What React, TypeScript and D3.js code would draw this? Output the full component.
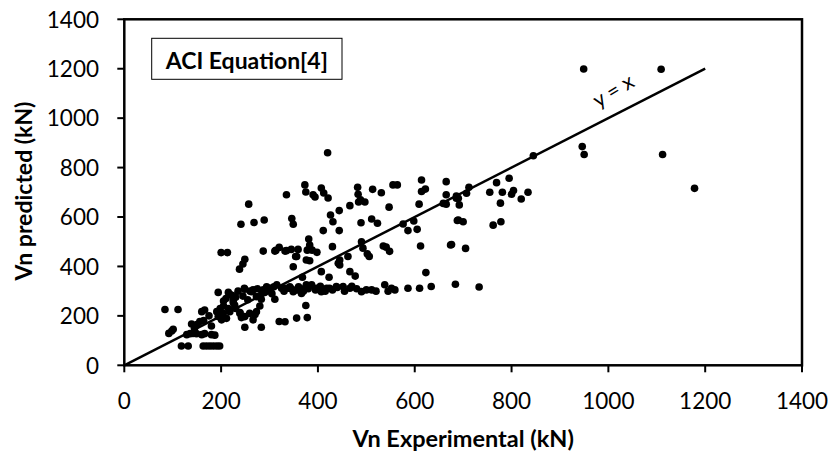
import React from "react";
import * as d3 from "d3";

// Vn Experimental (kN) and Vn predicted (kN), paired by index
const vnExperimental: number[] = [
  84, 111, 92, 98, 101,
  118, 132, 163, 170, 177, 184, 191, 197,
  129, 136, 142, 149, 160, 166, 180, 187,
  139, 156, 164, 160, 166, 180,
  191, 198, 194, 204, 201, 211, 218,
  225, 228, 215, 194,
  239, 249, 259, 266, 273,
  249, 283,
  249, 263, 273, 284, 294, 301, 309, 311,
  320, 332, 356, 378,
  332, 342, 356, 366, 373, 375,
  349, 376, 356, 287, 311, 332,
  200, 213, 249, 245, 238,
  225, 225, 239, 242, 270, 280, 283, 297,
  205, 210, 220, 230, 235, 245, 255, 205, 215, 230, 175, 150, 145,
  614, 665, 555, 564, 482, 513, 531, 373, 375, 407, 412, 421, 390, 394, 335,
  483, 488, 484, 497, 466, 614, 622, 609, 665, 665, 547, 257, 241, 268, 289,
  346, 349, 426, 431, 444, 489, 511, 523, 411, 444, 576, 586, 598, 605, 612, 674,
  313, 320, 335, 345, 359, 354, 381, 383, 378, 388, 398, 383, 430, 445, 445,
  462, 466, 477, 407, 423, 368, 490, 493, 502, 506, 535, 541, 548, 623,
  248, 266, 287, 301, 315, 325, 339, 349, 362, 376, 387, 397, 407, 418, 424,
  438, 452, 466, 490, 511, 538, 552, 559, 586, 610, 634,
  260, 275, 290, 305, 330, 345, 360, 370, 380, 395, 405, 415, 430, 440, 455,
  470, 480, 500, 520, 545,
  686, 688, 442,
  659, 690, 692, 686, 712, 707, 690, 700, 676, 705, 684, 733,
  755, 769, 781, 795, 800, 804, 820, 834, 777, 762, 778, 845,
  420, 949, 1109, 946, 950, 1112, 1178,
];

const vnPredicted: number[] = [
  226, 226, 129, 139, 146,
  78, 78, 78, 78, 78, 78, 78, 78,
  124, 128, 129, 128, 124, 128, 124, 122,
  167, 177, 181, 217, 224, 159,
  217, 230, 197, 210, 184, 190, 217,
  264, 244, 295, 295,
  210, 197, 210, 184, 217,
  154, 154,
  308, 298, 278, 291, 318, 311, 318, 267,
  177, 176, 191, 193,
  312, 318, 305, 291, 312, 242,
  399, 426, 440, 462, 462, 462,
  456, 456, 429, 410, 389,
  281, 254, 213, 193, 206, 240, 267, 301,
  260, 270, 285, 275, 300, 280, 265, 240, 230, 230, 200, 165, 150,
  750, 743, 730, 730, 720, 712, 698, 730, 701, 717, 697, 677, 690, 681, 690,
  692, 670, 661, 661, 646, 703, 713, 652, 690, 652, 640, 652, 571, 578, 588,
  594, 571, 608, 581, 626, 577, 592, 575, 545, 545, 572, 545, 584, 550, 483, 487,
  465, 477, 464, 469, 469, 440, 511, 487, 466, 466, 457, 423, 480, 426, 406,
  440, 379, 361, 379, 356, 356, 500, 474, 451, 440, 483, 478, 461, 375,
  312, 305, 305, 312, 326, 312, 312, 298, 305, 326, 326, 312, 298, 312, 312,
  319, 319, 312, 298, 305, 326, 312, 305, 312, 312, 319,
  300, 310, 295, 290, 300, 310, 318, 300, 310, 305, 320, 300, 305, 315, 300,
  320, 310, 305, 300, 300,
  676, 586, 413,
  655, 676, 649, 685, 720, 696, 588, 581, 489, 473, 328, 317,
  700, 739, 700, 757, 692, 707, 673, 700, 656, 567, 581, 848,
  860, 1199, 1198, 885, 853, 853, 716,
];

const xTicks: number[] = [0, 200, 400, 600, 800, 1000, 1200, 1400];
const yTicks: number[] = [0, 200, 400, 600, 800, 1000, 1200, 1400];
const identityLine: number[] = [0, 1200];

const xTitle = "Vn Experimental (kN)";
const yTitle = "Vn predicted (kN)";
const legendText = "ACI Equation[4]";
const lineLabel = "y = x";

const W = 832;
const H = 461;
const FONT = "Lato, 'Open Sans', sans-serif";

export default function App() {
  const left = 124.3, right = 802, top = 19.3, bottom = 365.3;
  const x = d3.scaleLinear().domain([0, 1400]).range([left, right]);
  const y = d3.scaleLinear().domain([0, 1400]).range([bottom, top]);
  const line = d3.line<number>().x((d) => x(d)).y((d) => y(d));
  const pts = vnExperimental.map((v, i) => [v, vnPredicted[i]] as [number, number]);
  const angle = (Math.atan2(y(0) - y(1200), x(1200) - x(0)) * 180) / Math.PI;

  return (
    <>
      <style>{"body{margin:0;background:#fff}"}</style>
      <svg width={W} height={H} style={{ display: "block", fontFamily: FONT }}>
        <rect x={0} y={0} width={W} height={H} fill="#fff" />
        {/* frame */}
        <rect x={left} y={top} width={right - left} height={bottom - top} fill="none" stroke="#000" strokeWidth={2.5} />
        {/* x ticks */}
        {xTicks.map((t) => (
          <g key={"xt" + t}>
            <line x1={x(t)} x2={x(t)} y1={bottom} y2={bottom + 7} stroke="#000" strokeWidth={2} />
            <text x={x(t)} y={bottom + 44} textAnchor="middle" fontSize={22.5} fill="#000">{t}</text>
          </g>
        ))}
        {yTicks.map((t) => (
          <g key={"yt" + t}>
            <line x1={left - 7} x2={left} y1={y(t)} y2={y(t)} stroke="#000" strokeWidth={2} />
            <text x={99} y={y(t) + 8.2} textAnchor="end" fontSize={22.5} fill="#000">{t}</text>
          </g>
        ))}
        {/* points */}
        {pts.map((p, i) => (
          <circle key={i} cx={x(p[0])} cy={y(p[1])} r={3.8} fill="#000" />
        ))}
        {/* y = x line */}
        <path d={line(identityLine) || ""} fill="none" stroke="#000" strokeWidth={2.5} />
        <text
          transform={`translate(${617},${97}) rotate(${-angle - 4})`}
          textAnchor="middle"
          fontSize={21}
          fill="#000"
        >
          {lineLabel}
        </text>
        {/* legend box */}
        <rect x={151.7} y={38.3} width={190.3} height={41} fill="#fff" stroke="#000" strokeWidth={1} />
        <text x={246.8} y={69} textAnchor="middle" fontSize={23} fontWeight="bold" fill="#000">{legendText}</text>
        {/* axis titles */}
        <text x={(left + right) / 2} y={447} textAnchor="middle" fontSize={23.5} fontWeight="bold" fill="#000">{xTitle}</text>
        <text
          transform={`translate(${32},${191}) rotate(-90)`}
          textAnchor="middle"
          fontSize={23}
          fontWeight="bold"
          fill="#000"
        >
          {yTitle}
        </text>
      </svg>
    </>
  );
}
